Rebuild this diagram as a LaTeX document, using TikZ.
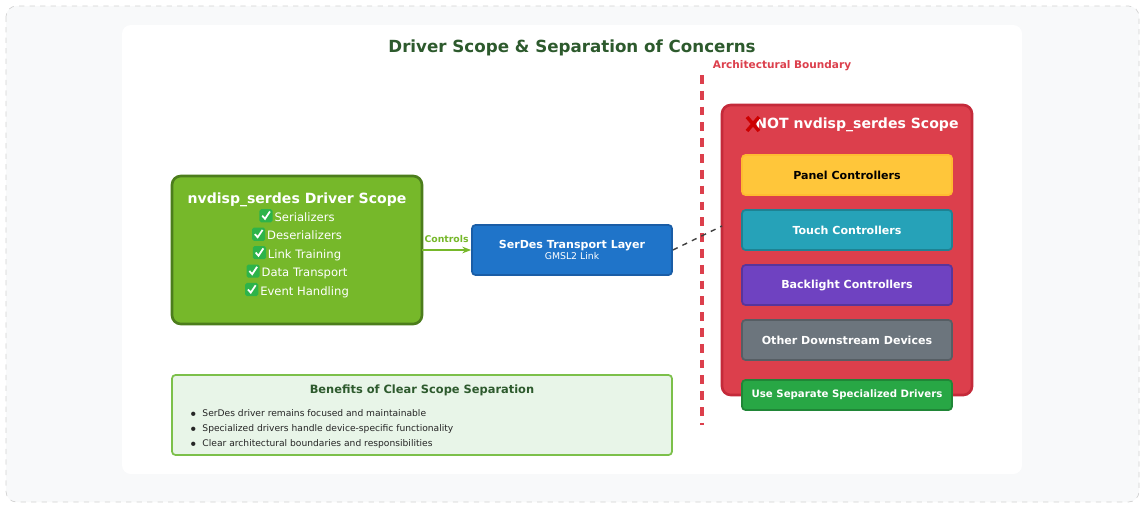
\documentclass[tikz,border=0pt]{standalone}
\usepackage{fontspec}
\setmainfont{DejaVu Sans}
\usetikzlibrary{arrows.meta,positioning}
\definecolor{pagebg}{HTML}{F8F9FA}
\definecolor{scopegreen}{HTML}{76B82A}
\definecolor{scopedark}{HTML}{4C7D1C}
\definecolor{titlegreen}{HTML}{2D5A2D}
\definecolor{linkblue}{HTML}{1F74C9}
\definecolor{linkdark}{HTML}{1A5DA6}
\definecolor{notred}{HTML}{DC3F4C}
\definecolor{notdark}{HTML}{C42A3A}
\definecolor{panelyellow}{HTML}{FFC63A}
\definecolor{touchteal}{HTML}{26A2B8}
\definecolor{backpurple}{HTML}{6F42C1}
\definecolor{othergray}{HTML}{6C757D}
\definecolor{usegreen}{HTML}{28A745}
\definecolor{benefitbg}{HTML}{E8F5E8}
\definecolor{benefitline}{HTML}{7CC04A}
\definecolor{checkgreen}{HTML}{2DB34A}
\newcommand{\chk}{\tikz[baseline=-0.5pt,x=1pt,y=1pt]{\fill[checkgreen,rounded corners=1pt] (0,-1) rectangle (7.5,6.5);
  \draw[white,line width=1pt] (1.6,2.8) -- (3.2,1) -- (6,5.2);}\,}
\tikzset{
    %Define standard arrow tip
    >={Stealth[length=5pt]},
    %Define style for boxes
    device/.style={
           rectangle,
           rounded corners=2pt,
           draw, line width=1pt,
           minimum width=210*0.02cm,
           minimum height=40*0.02cm,
           font=\fontsize{6.3}{7}\selectfont\bfseries,
           text centered,
           },
    scopebox/.style={
           rectangle,
           rounded corners=5pt,
           line width=1.5pt,
           },
}
\begin{document}
\begin{tikzpicture}[x=0.02cm,y=-0.02cm]
\useasboundingbox (0,0) rectangle (1145,508);
% background panels
\draw[gray!35,dashed,rounded corners=6pt,fill=pagebg] (6,6) rectangle (1139,502);
\fill[white,rounded corners=5pt] (122,25) rectangle (1022,474);
\node[font=\fontsize{9.5}{11}\selectfont\bfseries,text=titlegreen] (title) at (572,48) {Driver Scope \& Separation of Concerns};
% driver scope
\draw[scopebox,draw=scopedark,fill=scopegreen] (172,176) rectangle (422,324);
\node[text=white,align=center,font=\fontsize{6.6}{10.5}\selectfont] (scope) at (297,245)
  {{\fontsize{8}{10}\selectfont\bfseries nvdisp\_serdes Driver Scope}\\
   \chk Serializers\\ \chk Deserializers\\ \chk Link Training\\ \chk Data Transport\\ \chk Event Handling};
\coordinate (scopeE) at (422,250);
\node[device,draw=linkdark,fill=linkblue,text=white,minimum width=200*0.02cm,minimum height=50*0.02cm,align=center] (link) at (572,250)
  {SerDes Transport Layer\\[-1pt]{\fontsize{5.3}{6}\selectfont\mdseries GMSL2 Link}};
\draw[->,scopegreen,line width=1.3pt] (scopeE) -- node[above,font=\fontsize{5.3}{6}\selectfont\bfseries] {Controls} (link.west);
% boundary
\coordinate (btop) at (702,75);
\coordinate (bbot) at (702,425);
\draw[notred,line width=2pt,dash pattern=on 5pt off 4pt] (btop) -- (bbot);
\node[text=notred,font=\fontsize{6}{7}\selectfont\bfseries] (blabel) at (782,66) {Architectural Boundary};
% not in scope
\draw[scopebox,draw=notdark,fill=notred] (722,105) rectangle (972,395);
\coordinate (notW) at (722,226);
\draw[dashed,black!75,line width=0.8pt] (link.east) -- (notW);
\node[text=white,font=\fontsize{8}{10}\selectfont\bfseries] (nottitle) at (857,125) {NOT nvdisp\_serdes Scope};
\draw[red!80!black,line width=2pt] (747,117) -- (759,131) (759,117) -- (747,131);
\node[device,draw=panelyellow!85!orange,fill=panelyellow,text=black] (panel) at (847,175) {Panel Controllers};
\node[device,draw=touchteal!80!black,fill=touchteal,text=white] (touch) at (847,230) {Touch Controllers};
\node[device,draw=backpurple!80!black,fill=backpurple,text=white] (back) at (847,285) {Backlight Controllers};
\node[device,draw=othergray!80!black,fill=othergray,text=white] (other) at (847,340) {Other Downstream Devices};
\node[device,draw=usegreen!80!black,fill=usegreen,text=white,minimum height=30*0.02cm,font=\fontsize{5.8}{7}\selectfont\bfseries] (use) at (847,395) {Use Separate Specialized Drivers};
% benefits
\draw[benefitline,fill=benefitbg,line width=1pt,rounded corners=2pt] (172,375) rectangle (672,455);
\node[text=titlegreen,font=\fontsize{6.5}{8}\selectfont\bfseries] (btitle) at (422,390) {Benefits of Clear Scope Separation};
\node[anchor=north west,align=left,font=\fontsize{5.2}{8.5}\selectfont,text=black!85] (blist) at (184,403)
  {$\bullet$\ \ SerDes driver remains focused and maintainable\\
   $\bullet$\ \ Specialized drivers handle device-specific functionality\\
   $\bullet$\ \ Clear architectural boundaries and responsibilities};
\end{tikzpicture}
\end{document}
